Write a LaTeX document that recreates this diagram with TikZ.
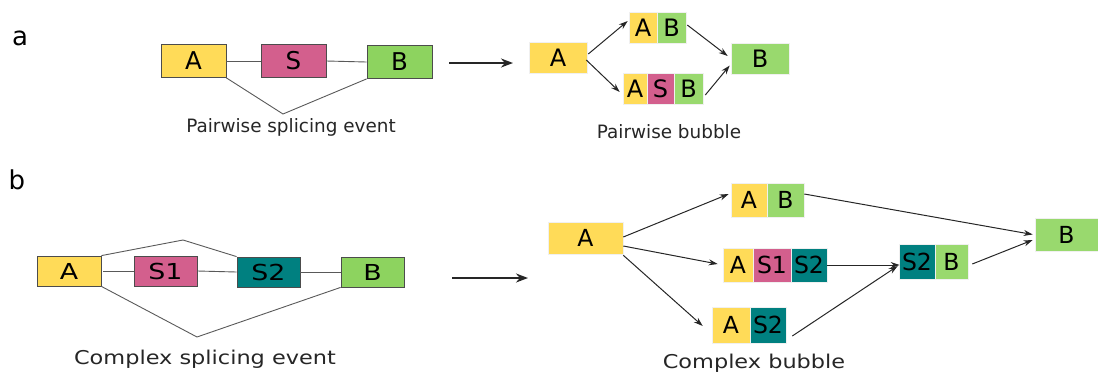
\documentclass[tikz,border=0pt]{standalone}
\usepackage{fontspec}
\setmainfont{DejaVu Sans}
\newfontfamily\widefont[FakeStretch=1.22]{DejaVu Sans}
\newfontfamily\capwidefont[FakeStretch=1.18]{DejaVu Sans}
\usetikzlibrary{arrows.meta}
\definecolor{yel}{HTML}{FFDB58}
\definecolor{pnk}{HTML}{D35F8D}
\definecolor{tel}{HTML}{008080}
\definecolor{grnL}{HTML}{8DD35F}
\definecolor{grnR}{HTML}{99D96E}
\tikzset{
  exon/.style={draw=black!70, line width=0.8pt, inner sep=0pt, font=\fontsize{24.5}{28}\selectfont},
  exonb/.style={draw=black!70, line width=0.8pt, inner sep=0pt, font=\widefont\fontsize{22}{26}\selectfont},
  seg/.style={draw=black!6, line width=0.6pt, inner sep=0pt},
  segA/.style={seg, font=\fontsize{24}{28}\selectfont},
  segB/.style={seg, font=\fontsize{23.5}{27}\selectfont},
  junc/.style={draw=black!65, line width=0.9pt},
  arr/.style={draw=black!85, line width=1pt, -{Stealth[length=9pt,width=6pt]}},
  bigarr/.style={draw=black!85, line width=2pt, -{Stealth[length=12pt,width=9pt]}},
  capA/.style={font=\fontsize{18.4}{22}\selectfont, text=black!85},
  capB/.style={font=\capwidefont\fontsize{19}{23}\selectfont, text=black!85},
  panel/.style={font=\fontsize{26}{30}\selectfont}
}
\begin{document}
\begin{tikzpicture}[x=1pt,y=-1pt]
\useasboundingbox (0,0) rectangle (1098,373);
% ---------- panel a ----------
\node[panel] (la) at (20,38) {a};
\node[exon, fill=yel, minimum width=65pt, minimum height=33pt] (aA) at (193.5,61) {A};
\node[exon, fill=pnk, minimum width=65pt, minimum height=33pt] (aS) at (293.5,61) {S};
\node[exon, fill=grnL, minimum width=65pt, minimum height=33pt] (aB) at (399.5,62) {B};
\coordinate (av) at (283,114);
\draw[junc] (aA.east) -- (aS.west);
\draw[junc] (aS.east) -- (aB.west);
\draw[junc] (aA.south east) -- (av) -- (aB.south west);
\node[capA] (capa) at (291,127) {Pairwise splicing event};
\coordinate (a1) at (449,63);
\coordinate (a2) at (513,63);
\draw[bigarr] (a1) -- (a2);
% bubble a
\node[segA, fill=yel, minimum width=58pt, minimum height=31pt] (pA) at (558,57.5) {A};
\node[segA, fill=yel, minimum width=28pt, minimum height=31pt] (abA) at (643,27.5) {A};
\node[segA, fill=grnR, minimum width=29pt, minimum height=31pt] (abB) at (671.5,27.5) {B};
\node[segA, fill=yel, minimum width=24pt, minimum height=31pt] (asbA) at (635,88.5) {A};
\node[segA, fill=pnk, minimum width=27pt, minimum height=31pt] (asbS) at (660.5,88.5) {S};
\node[segA, fill=grnR, minimum width=29pt, minimum height=31pt] (asbB) at (688.5,88.5) {B};
\node[segA, fill=grnR, minimum width=58pt, minimum height=31pt] (pB) at (760,58.5) {B};
\draw[arr] ([shift={(1,-3.5)}]pA.east) -- ([shift={(-1,-6.5)}]abA.west);
\draw[arr] ([shift={(-1,2.5)}]pA.east) -- ([shift={(-3,3.5)}]asbA.west);
\draw[arr] ([shift={(1,-2.5)}]abB.east) -- ([shift={(-3,-2.5)}]pB.west);
\draw[arr] ([shift={(2,6.5)}]asbB.east) -- ([shift={(-1,7)}]pB.west);
\node[capA] (capab) at (669,132) {Pairwise bubble};
% ---------- panel b ----------
\node[panel] (lb) at (17,180) {b};
\node[exonb, fill=yel, minimum width=64pt, minimum height=30pt] (bA) at (69,271) {A};
\node[exonb, fill=pnk, minimum width=63pt, minimum height=30pt] (bS1) at (165.5,271) {S1};
\node[exonb, fill=tel, minimum width=63pt, minimum height=30pt] (bS2) at (268.5,272) {S2};
\node[exonb, fill=grnL, minimum width=63pt, minimum height=30pt] (bB) at (372.5,272) {B};
\coordinate (bt) at (183,240);
\coordinate (bv) at (197,337);
\draw[junc] (bA.north east) -- (bt) -- (bS2.north west);
\draw[junc] ([xshift=2pt]bA.east) -- (bS1.west);
\draw[junc] (bS1.east) -- (bS2.west);
\draw[junc] (bS2.east) -- (bB.west);
\draw[junc] (bA.south east) -- (bv) -- (bB.south west);
\node[capB] (capb) at (205,359) {Complex splicing event};
\coordinate (b1) at (452,278);
\coordinate (b2) at (528,278);
\draw[bigarr] (b1) -- (b2);
% bubble b
\node[segB, fill=yel, minimum width=75pt, minimum height=32pt] (cA) at (585.5,238) {A};
\node[segB, fill=yel, minimum width=36pt, minimum height=34pt] (cabA) at (749,200) {A};
\node[segB, fill=grnR, minimum width=37pt, minimum height=34pt] (cabB) at (785.5,200) {B};
\node[segB, fill=yel, minimum width=30pt, minimum height=34pt] (c3A) at (738,265) {A};
\node[segB, fill=pnk, minimum width=38pt, minimum height=34pt] (c3S1) at (772,265) {S1};
\node[segB, fill=tel, minimum width=36pt, minimum height=34pt] (c3S2) at (809,265) {S2};
\node[segB, fill=yel, minimum width=38pt, minimum height=36pt] (c2A) at (731,325) {A};
\node[segB, fill=tel, minimum width=36pt, minimum height=36pt] (c2S2) at (768,325) {S2};
\node[segB, fill=tel, minimum width=36pt, minimum height=35pt] (dS2) at (917,261.5) {S2};
\node[segB, fill=grnR, minimum width=33pt, minimum height=35pt] (dB) at (951.5,261.5) {B};
\node[segB, fill=grnR, minimum width=63pt, minimum height=33pt] (cB) at (1066.5,234.5) {B};
\draw[arr] ([shift={(0,-1)}]cA.east) -- ([shift={(-2,-6)}]cabA.west);
\draw[arr] ([shift={(0,8)}]cA.east) -- ([shift={(-5,-1)}]c3A.west);
\draw[arr] ([shift={(0,1)}]cA.south east) -- ([shift={(-9,1)}]c2A.west);
\draw[arr] ([shift={(0,-6)}]cabB.east) -- ([shift={(-2,0)}]cB.west);
\draw[arr] (c3S2.east) -- ([shift={(1,3.5)}]dS2.west);
\draw[arr] ([shift={(6,11)}]c2S2.east) -- ([shift={(-1,4.5)}]dS2.west);
\draw[arr] ([shift={(4,2.5)}]dB.east) -- ([shift={(-2,5.5)}]cB.west);
\node[capB] (capbb) at (754,363) {Complex bubble};
\end{tikzpicture}
\end{document}
